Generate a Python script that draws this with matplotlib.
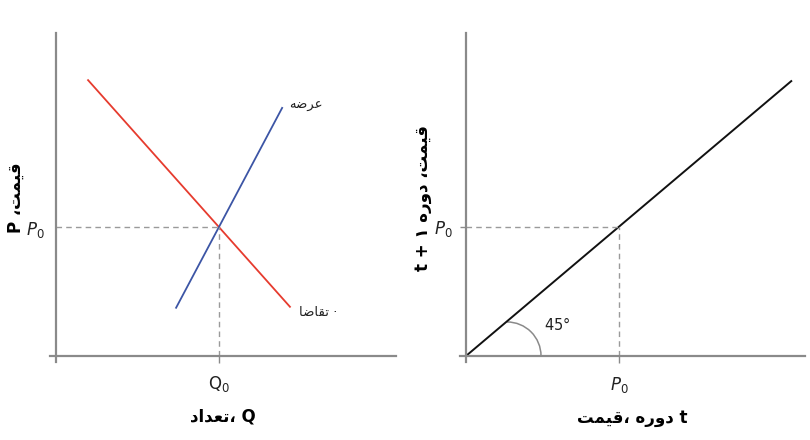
import matplotlib
matplotlib.use("Agg")
import matplotlib.pyplot as plt
from matplotlib.patches import Arc

plt.rcParams['font.family'] = ['DejaVu Sans']
plt.rcParams['mathtext.fontset'] = 'dejavusans'

# persian words in visual order (presentation forms, left to right)
qeymat = "\uFE96\uFEE4\uFEF4\uFED7"      # قیمت
doreh = "\uFEE9\uFEAD\uFEED\uFEA9"       # دوره
tedad = "\uFEA9\uFE8D\uFEAA\uFECC\uFE97"  # تعداد
arze = "\uFEEA\uFEBF\uFEAE\uFECB"        # عرضه
taghaza = "\uFE8E\uFEBF\uFE8E\uFED8\uFE97"  # تقاضا
comma = "\u060C"

# left panel: supply and demand
demand_x = [0.94, 6.88]
demand_y = [8.54, 1.52]
supply_x = [3.53, 6.65]
supply_y = [1.49, 7.68]
q0 = 4.79
p0 = 3.99

# right panel: 45 degree line
line_x = [0.0, 8.51]
line_y = [0.0, 8.51]
p0_right = 4.0

axis_col = "#8a8a8a"
dash_col = "#9a9a9a"

fig = plt.figure(figsize=(8.1, 4.4), dpi=100)
W, H = 810, 440


def make_axes(x0, x1, y0, y1):
    ax = fig.add_axes([x0 / W, 1 - y1 / H, (x1 - x0) / W, (y1 - y0) / H])
    ax.spines['top'].set_visible(False)
    ax.spines['right'].set_visible(False)
    for s in ['left', 'bottom']:
        ax.spines[s].set_position(('data', 0))
        ax.spines[s].set_color(axis_col)
        ax.spines[s].set_linewidth(1.6)
    ax.tick_params(colors=axis_col, labelcolor='#222222', width=1.0)
    return ax


# ---- left
ax1 = make_axes(50, 396, 33, 362)
ax1.set_xlim(-0.18, 10)
ax1.set_ylim(-0.19, 10)
ax1.plot(demand_x, demand_y, color="#e63b2e", lw=1.3)
ax1.plot(supply_x, supply_y, color="#3c55a5", lw=1.3)
ax1.plot([0, q0], [p0, p0], color=dash_col, lw=1, ls=(0, (4, 3)))
ax1.plot([q0, q0], [0, p0], color=dash_col, lw=1, ls=(0, (4, 3)))
ax1.set_xticks([q0])
ax1.set_xticklabels([r'$\mathrm{Q}_0$'], fontsize=12)
ax1.set_yticks([p0])
ax1.set_yticklabels([r'$P_0$'], fontsize=12)
ax1.tick_params(axis='x', length=5, pad=8)
ax1.tick_params(axis='y', length=0, pad=8)
ax1.text(6.85, 7.75, arze, fontsize=9.5, ha='left', va='center', color='#222222')
ax1.text(7.15, 1.35, taghaza + " \u00B7", fontsize=9.5, ha='left', va='center', color='#222222')
ax1.set_xlabel(tedad + comma + " Q", fontsize=12, fontweight='bold', labelpad=10)
ax1.set_ylabel("P " + comma + qeymat, fontsize=12, fontweight='bold', labelpad=1)

# ---- right
ax2 = make_axes(460, 805, 33, 362)
ax2.set_xlim(-0.16, 8.87)
ax2.set_ylim(-0.19, 10)
ax2.plot(line_x, line_y, color="#111111", lw=1.4)
ax2.plot([0, p0_right], [p0_right, p0_right], color=dash_col, lw=1, ls=(0, (4, 3)))
ax2.plot([p0_right, p0_right], [0, p0_right], color=dash_col, lw=1, ls=(0, (4, 3)))
ax2.add_patch(Arc((1.07, 0), 1.78, 2.1, theta1=0, theta2=90, color=axis_col, lw=1.1))
ax2.text(2.05, 0.96, r'$45°$', fontsize=10.5, ha='left', va='center', color='#222222')
ax2.set_xticks([p0_right])
ax2.set_xticklabels([r'$P_0$'], fontsize=12)
ax2.set_yticks([p0_right])
ax2.set_yticklabels([r'$P_0$'], fontsize=12)
ax2.tick_params(axis='x', length=5, pad=9)
ax2.tick_params(axis='y', length=4, pad=6)
ax2.set_xlabel(qeymat + comma + " " + doreh + " t", fontsize=12, fontweight='bold', labelpad=10)
ax2.set_ylabel("t + \u06F1 " + doreh + " " + comma + qeymat, fontsize=12, fontweight='bold', labelpad=1)

fig.savefig("out.png", dpi=100)
